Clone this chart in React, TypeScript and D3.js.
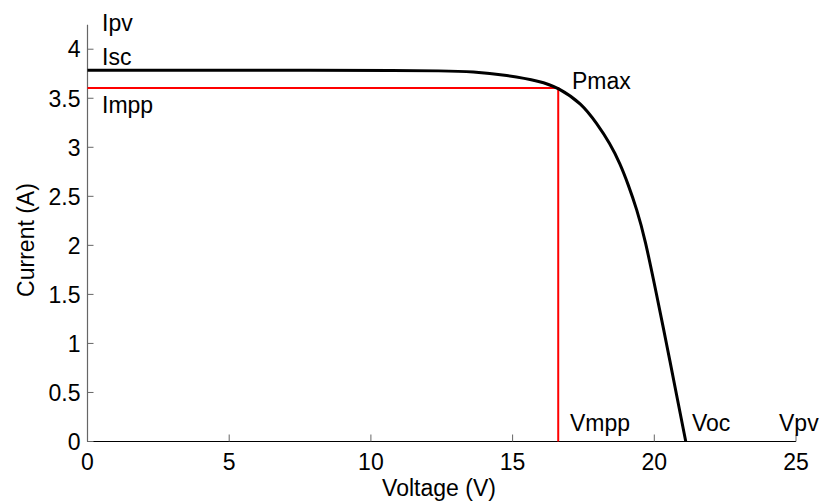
import React from "react";
import * as d3 from "d3";

const voltage = [0, 4, 8, 11, 12.43, 13.62, 14.79, 15.97, 16.61, 17.44, 17.97, 18.44, 18.79, 19.08, 19.38, 19.67, 20.08, 20.43, 20.79, 21.11];
const current = [3.785, 3.785, 3.785, 3.783, 3.78, 3.772, 3.735, 3.675, 3.61, 3.446, 3.243, 3.038, 2.835, 2.62, 2.37, 2.07, 1.5, 1.0, 0.47, 0];
const xTicks = [0, 5, 10, 15, 20, 25];
const yTicks = [0, 0.5, 1, 1.5, 2, 2.5, 3, 3.5, 4];
const Vmpp = 16.61;
const Impp = 3.605;

const W = 821, H = 503;
const FONT = "'Liberation Sans', Arial, Helvetica, sans-serif";

export default function App() {
  const x = d3.scaleLinear().domain([0, 25]).range([87.5, 796]);
  const y = d3.scaleLinear().domain([0, 4.25]).range([441.5, 24.7]);
  const pts = voltage.map((v, i) => [v, current[i]] as [number, number]);
  const line = d3.line<[number, number]>().x(d => x(d[0])).y(d => y(d[1])).curve(d3.curveBasis);
  const fs = 23;
  return (
    <svg width={W} height={H} style={{ position: "absolute", left: 0, top: 0, background: "#fff" }} fontFamily={FONT}>
      <rect width={W} height={H} fill="#fff" />
      <line x1={x(0)} x2={x(0)} y1={y(0)} y2={y(4.25)} stroke="#666" strokeWidth={1.2} />
      <line x1={x(0)} x2={x(25)} y1={y(0)} y2={y(0)} stroke="#000" strokeWidth={1.2} />
      {yTicks.map(t => (
        <g key={"y" + t}>
          <line x1={x(0)} x2={x(0) + 6} y1={y(t)} y2={y(t)} stroke="#666" strokeWidth={1} />
          <text x={x(0) - 7} y={y(t)} dy="0.36em" textAnchor="end" fontSize={fs}>{t}</text>
        </g>
      ))}
      {xTicks.map(t => (
        <g key={"x" + t}>
          <line x1={x(t)} x2={x(t)} y1={y(0)} y2={y(0) - 7} stroke="#666" strokeWidth={1} />
          <text x={x(t)} y={y(0) + 28} textAnchor="middle" fontSize={fs}>{t}</text>
        </g>
      ))}
      <path d={`M${x(0)},${y(Impp)}H${x(Vmpp)}V${y(0)}`} fill="none" stroke="#f00" strokeWidth={2} />
      <path d={line(pts) || ""} fill="none" stroke="#000" strokeWidth={3} />
      <text x={102} y={31} fontSize={fs}>Ipv</text>
      <text x={102} y={65} fontSize={fs}>Isc</text>
      <text x={102} y={113} fontSize={fs}>Impp</text>
      <text x={572} y={89} fontSize={fs}>Pmax</text>
      <text x={570} y={431} fontSize={fs}>Vmpp</text>
      <text x={692} y={431} fontSize={fs}>Voc</text>
      <text x={779} y={431} fontSize={fs}>Vpv</text>
      <text x={439} y={496} textAnchor="middle" fontSize={fs}>Voltage (V)</text>
      <text transform={`translate(34,240) rotate(-90)`} textAnchor="middle" fontSize={fs}>Current (A)</text>
    </svg>
  );
}
